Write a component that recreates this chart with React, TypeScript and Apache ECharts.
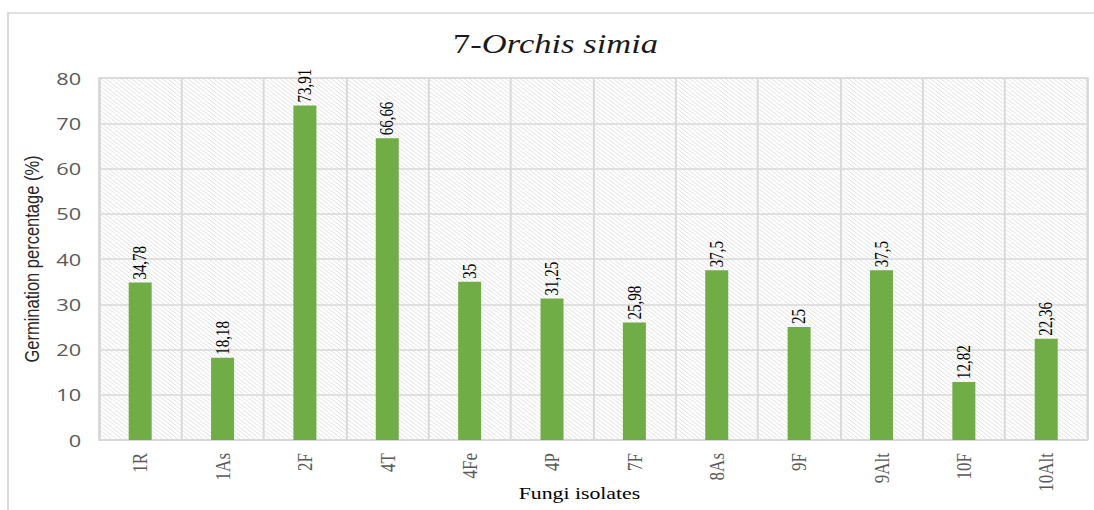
import React, { useEffect, useRef } from "react";
import * as echarts from "echarts";

const categories = ["1R", "1As", "2F", "4T", "4Fe", "4P", "7F", "8As", "9F", "9Alt", "10F", "10Alt"];
const germination = [34.78, 18.18, 73.91, 66.66, 35, 31.25, 25.98, 37.5, 25, 37.5, 12.82, 22.36];
const yMin = 0;
const yMax = 80;
const yStep = 10;
const titleNumber = "7-";
const titleSpecies = "Orchis simia";
const yName = "Germination percentage (%)";
const xName = "Fungi isolates";

const S = 1.28; // horizontal stretch of the reference picture
const W = 1094 / S;
const H = 510;

function makeHatch() {
  const c = document.createElement("canvas");
  c.width = 4;
  c.height = 4;
  const ctx = c.getContext("2d");
  if (ctx) {
    ctx.fillStyle = "#ffffff";
    ctx.fillRect(0, 0, 4, 4);
    ctx.strokeStyle = "#e2e2e2";
    ctx.lineWidth = 1;
    ctx.beginPath();
    ctx.moveTo(-1, -1);
    ctx.lineTo(5, 5);
    ctx.moveTo(3, -1);
    ctx.lineTo(5, 1);
    ctx.moveTo(-1, 3);
    ctx.lineTo(1, 5);
    ctx.stroke();
  }
  return c;
}

export default function App() {
  const ref = useRef<HTMLDivElement>(null);

  useEffect(() => {
    if (!ref.current) return;
    const chart = echarts.init(ref.current, null, { renderer: "svg" });
    const hatch = makeHatch();
    const grey = "#d9d9d9";
    chart.setOption({
      animation: false,
      grid: {
        left: 99 / S,
        right: 7 / S,
        top: 78,
        bottom: 70,
        show: true,
        backgroundColor: { image: hatch, repeat: "repeat", imageWidth: 4, imageHeight: 4 },
        borderColor: grey,
        borderWidth: 1.5,
      },
      graphic: [
        {
          type: "rect",
          shape: { x: 8 / S, y: 13, width: 2000, height: 1000 },
          style: { fill: "none", stroke: grey, lineWidth: 1.5 },
          silent: true,
          z: -1,
        },
        {
          type: "text",
          x: 434,
          y: 44,
          style: {
            text: `{a|${titleNumber}}{b|${titleSpecies}}`,
            align: "center",
            verticalAlign: "middle",
            rich: {
              a: { fontFamily: "Liberation Serif", fontSize: 27, fill: "#1a1a1a" },
              b: { fontFamily: "Liberation Serif", fontSize: 27, fontStyle: "italic", fill: "#1a1a1a" },
            },
          },
        },
        {
          type: "text",
          x: 452.7,
          y: 493,
          style: {
            text: xName,
            align: "center",
            verticalAlign: "middle",
            fontFamily: "Liberation Serif",
            fontSize: 17,
            fill: "#000000",
          },
        },
      ],
      xAxis: {
        type: "category",
        data: categories,
        axisLine: { show: true, lineStyle: { color: grey, width: 1.5 } },
        axisTick: { show: false },
        axisLabel: {
          rotate: 90,
          margin: 13,
          fontFamily: "Liberation Serif",
          fontSize: 17,
          color: "#595959",
        },
        splitLine: { show: true, lineStyle: { color: grey, width: 1.5 } },
      },
      yAxis: {
        type: "value",
        min: yMin,
        max: yMax,
        interval: yStep,
        name: yName,
        nameLocation: "middle",
        nameRotate: 90,
        nameGap: 42,
        nameTextStyle: { fontFamily: "Liberation Sans", fontSize: 16.5, color: "#262626" },
        axisLine: { show: true, lineStyle: { color: grey, width: 1.5 } },
        axisTick: { show: false },
        axisLabel: { fontFamily: "Open Sans", fontSize: 17, color: "#595959", margin: 14 },
        splitLine: { show: true, lineStyle: { color: grey, width: 1.5 } },
      },
      series: [
        {
          type: "bar",
          data: germination,
          barWidth: 23 / S,
          itemStyle: { color: "#70ad47" },
          label: {
            show: true,
            position: "top",
            rotate: 90,
            align: "left",
            verticalAlign: "middle",
            distance: 3,
            fontFamily: "Liberation Serif",
            fontSize: 15,
            color: "#000000",
            formatter: (p: any) => String(p.value).replace(".", ","),
          },
        },
      ],
    });
    return () => chart.dispose();
  }, []);

  return (
    <div
      ref={ref}
      style={{
        position: "absolute",
        left: 0,
        top: 0,
        width: W,
        height: H,
        transform: `scaleX(${S})`,
        transformOrigin: "0 0",
      }}
    />
  );
}
